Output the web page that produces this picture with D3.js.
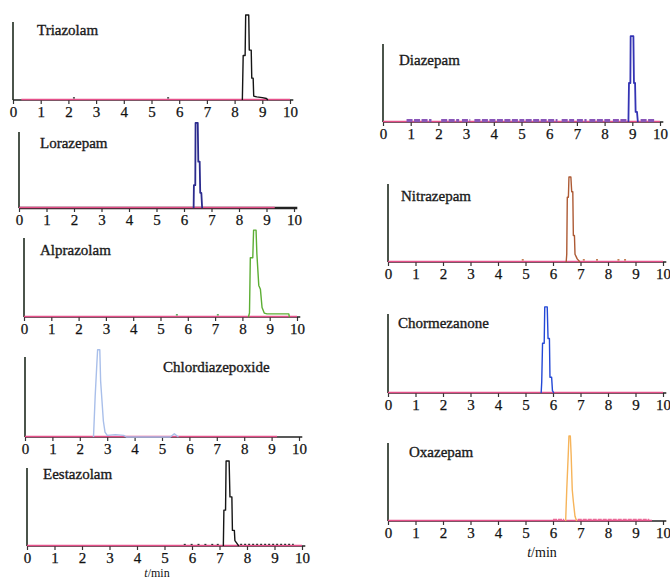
<!DOCTYPE html>
<html><head><meta charset="utf-8">
<script src="https://cdn.jsdelivr.net/npm/d3@7"></script>
<style>body{margin:0;background:#fff}</style>
</head><body>
<script>
// ---------------- data ----------------
const names = ["Triazolam","Lorazepam","Alprazolam","Chlordiazepoxide","Eestazolam","Diazepam","Nitrazepam","Chormezanone","Oxazepam"];
const tickValues = [0,1,2,3,4,5,6,7,8,9,10];
const xLabel = "min";
// chromatogram peaks: [retention time (min), relative signal]
const triazolam = [[8.28,0],[8.31,0.57],[8.38,0.57],[8.40,1.09],[8.51,1.09],[8.53,0.64],[8.60,0.64],[8.62,0.28],[8.67,0.28],[8.69,0.05],[8.80,0.04],[9.0,0.03],[9.15,0.02],[9.2,0]];
const lorazepam = [[6.35,0],[6.36,0.3],[6.41,0.3],[6.42,1.12],[6.50,1.12],[6.52,0.61],[6.57,0.61],[6.59,0.2],[6.63,0.2],[6.66,0]];
const alprazolam = [[8.22,0],[8.26,0.05],[8.29,0.75],[8.38,0.75],[8.41,1.1],[8.50,1.1],[8.53,0.8],[8.60,0.4],[8.66,0.35],[8.72,0.12],[8.80,0.05],[8.90,0.04],[9.7,0.04],[9.72,0]];
const chlordiazepoxide = [[2.50,0],[2.56,0.5],[2.62,0.9],[2.65,1.09],[2.73,1.09],[2.76,0.7],[2.80,0.5],[2.86,0.2],[2.92,0.06],[3.0,0.02],[3.3,0.03],[3.6,0.02],[3.7,0],[5.3,0],[5.45,0.04],[5.6,0]];
const estazolam = [[7.14,0],[7.16,0.46],[7.22,0.46],[7.24,1.09],[7.35,1.09],[7.38,0.63],[7.45,0.63],[7.47,0.2],[7.54,0.2],[7.56,0.07],[7.64,0.03],[7.7,0]];
const diazepam = [[8.86,0],[8.88,0.5],[8.93,0.5],[8.94,1.1],[9.04,1.1],[9.06,0.5],[9.10,0.5],[9.12,0.13],[9.17,0.13],[9.2,0]];
const nitrazepam = [[6.48,0],[6.50,0.1],[6.52,0.83],[6.56,0.83],[6.58,1.09],[6.65,1.09],[6.68,0.9],[6.72,0.9],[6.74,0.34],[6.78,0.34],[6.80,0.1],[6.88,0.04],[6.98,0]];
const chormezanone = [[5.57,0],[5.59,0.14],[5.62,0.63],[5.68,0.63],[5.70,1.09],[5.79,1.09],[5.82,0.69],[5.87,0.69],[5.89,0.2],[5.95,0.2],[5.98,0.03],[6.03,0]];
const oxazepam = [[6.46,0],[6.50,0.4],[6.56,0.9],[6.58,1.09],[6.63,1.09],[6.66,0.85],[6.70,0.4],[6.74,0.25],[6.80,0.06],[6.86,0]];
const peaks = [triazolam,lorazepam,alprazolam,chlordiazepoxide,estazolam,diazepam,nitrazepam,chormezanone,oxazepam];
// extent of pink baseline for each trace [start, end] (min)
const baselineStart = [0.3,0,0,0,0,0,0,0,0];
const baselineEnd = [10,9.3,10,9.2,10,10,10,10,9.6];
// baseline noise segments [from, to] (min)
const noiseDiazepam = [[0.85,1.75],[2.1,2.75],[2.85,3.15],[3.3,5.1],[5.15,6.3],[6.45,6.9],[7.0,7.35],[7.45,8.2],[8.3,8.8],[9.3,9.8]];
const noiseEstazolam = [[5.7,5.8],[5.95,6.05],[6.2,6.3],[6.45,6.55],[6.7,6.8],[6.9,7.0],[7.75,9.7]];
const noiseOxazepam = [[6.0,6.4],[6.9,9.5]];
const noiseDotsNitrazepam = [4.9,7.12,7.6,8.38,8.62];
const noiseDotsTriazolam = [2.2,5.6];
const noiseDotsAlprazolam = [5.6,7.1];
// ---------------- layout & style ----------------
const colors = ["#151515","#2c2c8e","#5cae34","#a9bfea","#151515","#3434b4","#ad5a34","#2348d6","#f6b45a"];
const layout = [
 {x0:13,x10:290,yb:100,yt:22, tx:37, ty:35},
 {x0:19,x10:294,yb:208,yt:132, tx:40, ty:148},
 {x0:24,x10:297,yb:317,yt:238, tx:40, ty:255},
 {x0:25,x10:299,yb:437,yt:357, tx:163, ty:372},
 {x0:27,x10:302,yb:546,yt:468, tx:43, ty:479},
 {x0:383,x10:660,yb:122,yt:44, tx:399, ty:65},
 {x0:388,x10:663,yb:262,yt:184, tx:401, ty:201},
 {x0:388,x10:663,yb:393,yt:314, tx:398, ty:328},
 {x0:388,x10:663,yb:521,yt:443, tx:409, ty:457}
];
const noiseSeg = {5:[noiseDiazepam,"#8a55b8",3,"6 1.5"], 4:[noiseEstazolam,"#333",1.2,"2 2"], 8:[noiseOxazepam,"#ec6a98",1.4,"4 1"]};
const noiseDots = {6:[noiseDotsNitrazepam,"#c07a50"], 0:[noiseDotsTriazolam,"#555"], 2:[noiseDotsAlprazolam,"#6a6"]};
const PINK = "#e6508a";
const SERIF = "'Liberation Serif','Times New Roman',serif";

const svg = d3.select("body").append("svg").attr("width",670).attr("height",580)
  .style("font-family",SERIF);

names.forEach((name,i)=>{
  const L = layout[i];
  const x = d3.scaleLinear().domain([0,10]).range([L.x0,L.x10]);
  const y = d3.scaleLinear().domain([0,1]).range([L.yb,L.yt]);
  const g = svg.append("g");
  // x axis
  const ax = g.append("g").attr("transform",`translate(0,${L.yb})`)
    .call(d3.axisBottom(x).tickValues(tickValues).tickSize(4).tickSizeOuter(0).tickPadding(2));
  ax.select(".domain").remove();
  ax.selectAll(".tick line").attr("stroke","#333").attr("stroke-width",1.2);
  ax.selectAll(".tick text").attr("font-size",15).attr("font-family",SERIF)
    .attr("fill","#111").attr("stroke","#111").attr("stroke-width",0.25);
  g.append("line").attr("x1",x(0)).attr("x2",x(10.12)).attr("y1",L.yb).attr("y2",L.yb)
    .attr("stroke","#222").attr("stroke-width", i===1 ? 2.4 : 1.5);
  // y axis
  g.append("line").attr("x1",x(0)).attr("x2",x(0)).attr("y1",L.yb).attr("y2",L.yt)
    .attr("stroke","#1e2a1e").attr("stroke-width",1.6);
  // pink baseline
  g.append("line").attr("x1",x(baselineStart[i])).attr("x2",x(baselineEnd[i]))
    .attr("y1",y(0)-0.5).attr("y2",y(0)-0.5).attr("stroke",PINK).attr("stroke-width",1.6);
  // noise segments
  if(noiseSeg[i]){
    const [segs,c,w,dash] = noiseSeg[i];
    g.selectAll(null).data(segs).enter().append("line")
      .attr("x1",d=>x(d[0])).attr("x2",d=>x(d[1]))
      .attr("y1",y(0.02)).attr("y2",y(0.02))
      .attr("stroke",c).attr("stroke-width",w).attr("stroke-dasharray",dash);
  }
  if(noiseDots[i]){
    const [dots,c] = noiseDots[i];
    g.selectAll(null).data(dots).enter().append("rect")
      .attr("x",d=>x(d)-1).attr("y",y(0.025)-1).attr("width",2).attr("height",1.6).attr("fill",c);
  }
  // peak trace
  const line = d3.line().x(d=>x(d[0])).y(d=>y(d[1]));
  g.append("path").datum(peaks[i]).attr("d",line)
    .attr("fill","none").attr("stroke",colors[i])
    .attr("stroke-width", (i===1||i===5)?1.8:1.4).attr("stroke-linejoin","round");
  // title
  g.append("text").attr("x",L.tx).attr("y",L.ty).text(name)
    .attr("font-size",15).attr("fill","#1a1a1a").attr("stroke","#1a1a1a").attr("stroke-width",0.35);
});

// x-axis titles
[[157,577.3,12],[542,557,14]].forEach(([cx,cy,fs])=>{
  const t = svg.append("text").attr("x",cx).attr("y",cy).attr("text-anchor","middle")
    .attr("font-size",fs).attr("fill","#111");
  t.append("tspan").attr("font-style","italic").text("t");
  t.append("tspan").text("/" + xLabel);
});
</script>
</body></html>
